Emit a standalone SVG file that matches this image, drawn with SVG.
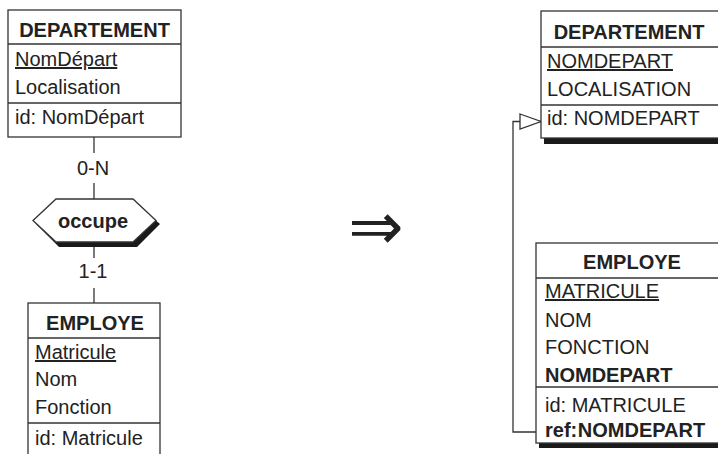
<svg xmlns="http://www.w3.org/2000/svg" width="718" height="454" viewBox="0 0 718 454">
<style>
.bg{fill:#fff}
.box{fill:#fff;stroke:#333;stroke-width:1.3}
.sh{fill:#1a1a1a}
.ln{stroke:#333;stroke-width:1.3;fill:none}
.t{font-family:"Liberation Sans",Arial,Helvetica,sans-serif;font-size:20px;fill:#222}
.b{font-weight:bold}
.c{text-anchor:middle}
.u{text-decoration:underline}
</style>
<defs>
<marker id="tri" markerUnits="userSpaceOnUse" markerWidth="23" markerHeight="16" refX="21" refY="7.5" orient="auto" overflow="visible">
<path d="M0,0 L21,7.5 L0,15 Z" fill="#fff" stroke="#333" stroke-width="1.3"/>
</marker>
</defs>
<rect class="bg" x="0" y="0" width="718" height="454"/>

<g id="connectors">
<line class="ln" x1="94" y1="137" x2="94" y2="153"/>
<line class="ln" x1="94" y1="183" x2="94" y2="199"/>
<line class="ln" x1="94" y1="242" x2="94" y2="258"/>
<line class="ln" x1="94" y1="288" x2="94" y2="303"/>
<text class="t c" x="93" y="175">0-N</text>
<text class="t c" x="93" y="278">1-1</text>
<polyline class="ln" points="536,432 513,432 513,121.5 541,121.5" marker-end="url(#tri)"/>
</g>

<g id="dept-left">
<rect class="box" x="8" y="10" width="173" height="127"/>
<line class="ln" x1="8" y1="44" x2="181" y2="44"/>
<line class="ln" x1="8" y1="103" x2="181" y2="103"/>
<text class="t b c" x="94.5" y="37">DEPARTEMENT</text>
<text class="t u" x="15" y="66">NomDépart</text>
<text class="t" x="15" y="94">Localisation</text>
<text class="t" x="15" y="124">id: NomDépart</text>
</g>

<g id="occupe">
<polygon class="sh" points="36,224 59,203 135,203 160,224 137,247 59,247"/>
<polygon class="box" points="33,220.5 56,199 133,199 156,220.5 133,242 56,242"/>
<text class="t b c" x="93" y="228">occupe</text>
</g>

<g id="employe-left">
<rect class="box" x="28" y="303" width="132" height="160"/>
<line class="ln" x1="28" y1="338" x2="160" y2="338"/>
<line class="ln" x1="28" y1="423" x2="160" y2="423"/>
<text class="t b c" x="95" y="330">EMPLOYE</text>
<text class="t u" x="35" y="359">Matricule</text>
<text class="t" x="35" y="386">Nom</text>
<text class="t" x="35" y="414">Fonction</text>
<text class="t" x="35" y="445">id: Matricule</text>
</g>

<g id="implies">
<text x="376" y="249" text-anchor="middle" font-family="DejaVu Sans, sans-serif" font-size="66" fill="#222">⇒</text>
</g>

<g id="dept-right">
<rect class="sh" x="544" y="16" width="190" height="128"/>
<rect class="box" x="541" y="11" width="190" height="127"/>
<line class="ln" x1="541" y1="47" x2="731" y2="47"/>
<line class="ln" x1="541" y1="105" x2="731" y2="105"/>
<text class="t b c" x="629" y="39">DEPARTEMENT</text>
<text class="t u" x="547" y="68">NOMDEPART</text>
<text class="t" x="547" y="96">LOCALISATION</text>
<text class="t" x="547" y="125">id: NOMDEPART</text>
</g>

<g id="employe-right">
<rect class="sh" x="539" y="248" width="190" height="200"/>
<rect class="box" x="536" y="243" width="190" height="200"/>
<line class="ln" x1="536" y1="278" x2="726" y2="278"/>
<line class="ln" x1="536" y1="387" x2="726" y2="387"/>
<text class="t b c" x="632" y="269">EMPLOYE</text>
<text class="t u" x="545" y="298">MATRICULE</text>
<text class="t" x="545" y="327">NOM</text>
<text class="t" x="545" y="354">FONCTION</text>
<text class="t b" x="545" y="382">NOMDEPART</text>
<text class="t" x="545" y="412">id: MATRICULE</text>
<text class="t b" x="545" y="437" word-spacing="-5">ref: NOMDEPART</text>
</g>
</svg>
